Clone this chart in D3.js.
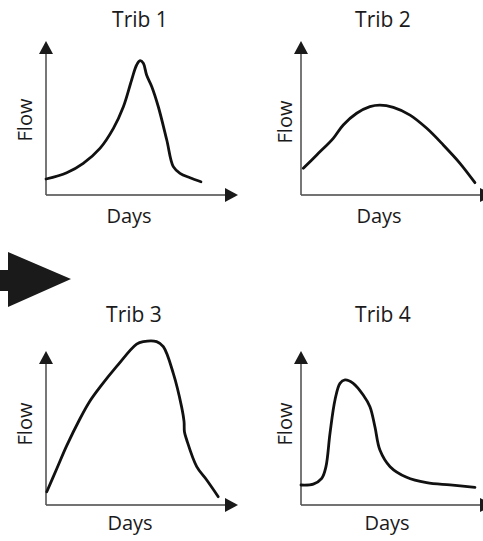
<!DOCTYPE html>
<html><head><meta charset="utf-8">
<script src="https://cdn.jsdelivr.net/npm/d3@7/dist/d3.min.js"></script>
<style>html,body{margin:0;padding:0;background:#fff;}svg{display:block;}</style>
</head><body>
<svg id="c" width="483" height="541"></svg>
<script>
const titles = ["Trib 1", "Trib 2", "Trib 3", "Trib 4"];
const xLabel = "Days";
const yLabel = "Flow";

const days1 = [0, 10.8, 19.4, 28.1, 35.1, 40.3, 44.6, 47.2, 49.0, 50.7, 52.4, 55.1, 58.5, 62.9, 66.3, 69.8, 75.0, 80.7];
const flow1 = [10.4, 14.5, 20.6, 30.3, 43.3, 57.3, 74.7, 84.4, 87.2, 85.5, 77.9, 70.3, 57.3, 35.7, 18.4, 14.1, 11.2, 8.6];

const days2 = [1.2, 8.2, 16.8, 22.0, 29.0, 35.9, 41.1, 48.1, 56.8, 65.5, 74.1, 82.8, 90.6];
const flow2 = [17.3, 26.0, 36.8, 45.5, 53.1, 57.4, 58.4, 56.9, 51.9, 43.3, 32.5, 20.6, 8.0];

const days3 = [0.4, 5.6, 10.8, 17.7, 22.9, 28.1, 36.8, 47.2, 50.7, 57.6, 61.1, 66.3, 70.6, 71.9, 72.1, 73.3, 78.5, 83.7, 89.7];
const flow3 = [8.6, 23.5, 38.5, 56.0, 67.5, 76.5, 90.0, 104.5, 106.1, 106.1, 102.8, 85.5, 63.9, 54.1, 47.6, 42.2, 24.9, 16.2, 5.4];

const days4 = [0, 6.4, 10.8, 13.0, 15.1, 17.7, 20.3, 22.9, 27.2, 32.4, 35.9, 38.5, 41.1, 46.4, 55.0, 65.4, 77.6, 90.6];
const flow4 = [13.0, 13.6, 17.3, 24.9, 46.5, 68.2, 79.0, 81.2, 79.0, 71.4, 63.8, 50.8, 35.7, 24.9, 18.0, 14.5, 13.0, 11.5];

const series = [[days1, flow1], [days2, flow2], [days3, flow3], [days4, flow4]];

const svg = d3.select("#c");
const FONT = "'Open Sans', sans-serif";

const panels = [
  {ox: 46, oy: 195, row: 0},
  {ox: 301, oy: 195, row: 0},
  {ox: 46, oy: 505, row: 1},
  {ox: 301, oy: 505, row: 1}
];
const W = 192, H = 154;

panels.forEach((p, i) => {
  const g = svg.append("g");
  const x = d3.scaleLinear().domain([0, 100]).range([p.ox, p.ox + W]);
  const y = d3.scaleLinear().domain([0, 100]).range([p.oy, p.oy - H]);

  g.append("line").attr("x1", x(0)).attr("x2", x(100) - 8).attr("y1", y(0)).attr("y2", y(0))
    .attr("stroke", "#444").attr("stroke-width", 1.6);
  g.append("line").attr("x1", x(0)).attr("x2", x(0)).attr("y1", y(0)).attr("y2", y(100) + 8)
    .attr("stroke", "#555").attr("stroke-width", 1.6);
  const tx = x(100), ty = y(0);
  g.append("path").attr("d", `M${tx},${ty} L${tx - 13},${ty - 7} L${tx - 13},${ty + 7} Z`).attr("fill", "#1a1a1a");
  const ux = x(0), uy = y(100);
  g.append("path").attr("d", `M${ux},${uy} L${ux - 7},${uy + 13} L${ux + 7},${uy + 13} Z`).attr("fill", "#1a1a1a");

  const [dd, ff] = series[i];
  const pts = dd.map((d, k) => [d, ff[k]]);
  const line = d3.line().x(d => x(d[0])).y(d => y(d[1])).curve(d3.curveCatmullRom.alpha(0.5));
  g.append("path").attr("d", line(pts)).attr("fill", "none")
    .attr("stroke", "#111").attr("stroke-width", 2.8).attr("stroke-linejoin", "round").attr("stroke-linecap", "round");

  const titleCx = [140, 383, 134, 383][i];
  g.append("text").attr("x", titleCx).attr("y", p.row === 0 ? 27 : 322)
    .attr("text-anchor", "middle").attr("font-family", FONT).attr("font-size", 21).attr("font-weight", 500)
    .attr("fill", "#1a1a1a").text(titles[i]);
  const dCx = [129, 379, 130, 387][i];
  g.append("text").attr("x", dCx).attr("y", p.row === 0 ? 223 : 530)
    .attr("text-anchor", "middle").attr("font-family", FONT).attr("font-size", 20).attr("font-weight", 500)
    .attr("fill", "#1a1a1a").text(xLabel);
  const fx = [32, 292, 32, 292][i], fy = [120, 122, 424, 424][i];
  g.append("text").attr("transform", `translate(${fx},${fy}) rotate(-90)`)
    .attr("text-anchor", "middle").attr("font-family", FONT).attr("font-size", 20).attr("font-weight", 500)
    .attr("fill", "#1a1a1a").text(yLabel);
});

svg.append("path")
  .attr("d", "M0,270 L8,270 L8,252 L71,279 L8,307 L8,291 L0,291 Z")
  .attr("fill", "#1a1a1a");
</script>
</body></html>
